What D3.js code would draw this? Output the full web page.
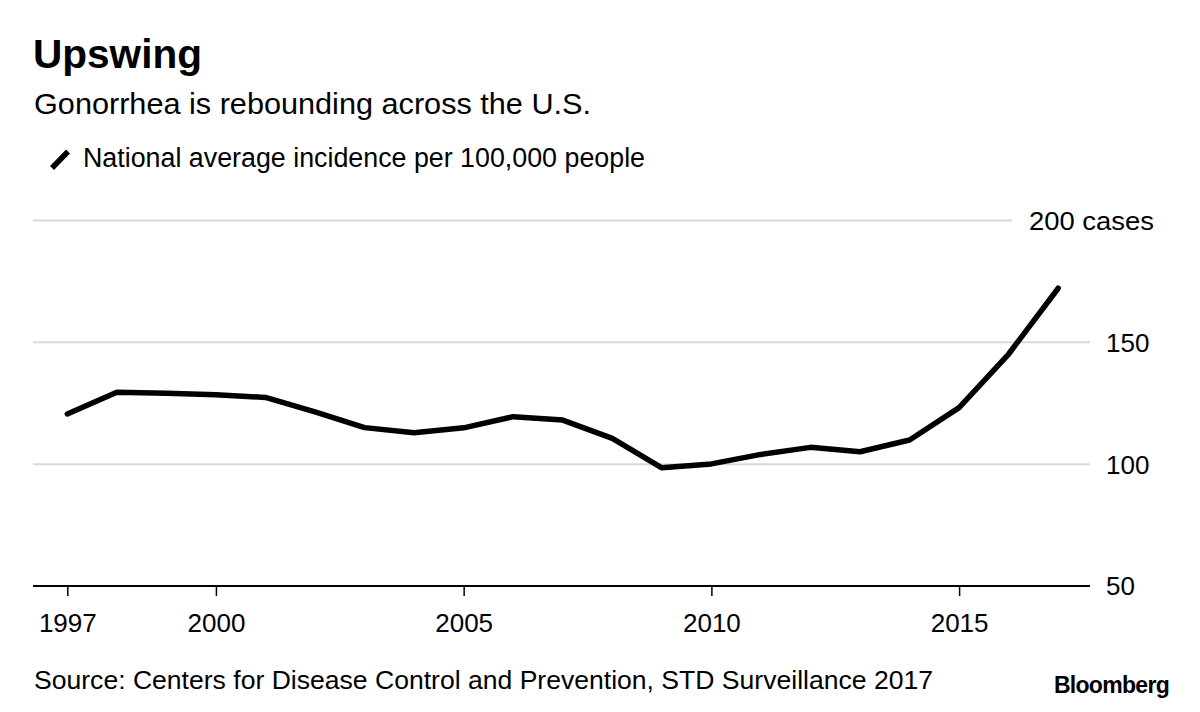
<!DOCTYPE html>
<html>
<head>
<meta charset="utf-8">
<script src="https://cdn.jsdelivr.net/npm/d3@7"></script>
<style>
  html, body { margin: 0; padding: 0; background: #fff; }
  svg { display: block; font-family: "Liberation Sans", Arial, Helvetica, sans-serif; }
</style>
</head>
<body>
<svg id="chart" width="1200" height="712"></svg>
<script>
// ---- data ----
const years = [1997, 1998, 1999, 2000, 2001, 2002, 2003, 2004, 2005, 2006, 2007,
               2008, 2009, 2010, 2011, 2012, 2013, 2014, 2015, 2016, 2017];
const incidence = [120.6, 129.5, 129.1, 128.5, 127.4, 121.5, 115.0, 112.9, 114.9, 119.5, 118.1,
                   110.6, 98.5, 100.1, 104.0, 106.9, 105.1, 109.9, 123.2, 145.2, 172.2];
const xTickValues = [1997, 2000, 2005, 2010, 2015];
const yTickValues = [50, 100, 150, 200];
const yTickLabels = ["50", "100", "150", "200 cases"];
const titleText = "Upswing";
const subtitleText = "Gonorrhea is rebounding across the U.S.";
const legendText = "National average incidence per 100,000 people";
const sourceText = "Source: Centers for Disease Control and Prevention, STD Surveillance 2017";
const brandText = "Bloomberg";

// ---- layout ----
const svg = d3.select("#chart");
const plotLeft = 33, plotRight = 1090;
const x = d3.scaleLinear().domain([1997, 2017]).range([67.3, 1058.2]);
const y = d3.scaleLinear().domain([50, 200]).range([586, 220.5]);

function fitText(sel, w) {
  sel.attr("textLength", w).attr("lengthAdjust", "spacingAndGlyphs");
}

// title / subtitle / legend
svg.append("text").attr("x", 33).attr("y", 68)
  .attr("font-size", 40).attr("font-weight", "bold").attr("fill", "#000")
  .text(titleText).call(fitText, 169);
svg.append("text").attr("x", 34).attr("y", 114)
  .attr("font-size", 30).attr("fill", "#000")
  .text(subtitleText).call(fitText, 557);
svg.append("line")
  .attr("x1", 52).attr("y1", 168).attr("x2", 68).attr("y2", 151.5)
  .attr("stroke", "#000").attr("stroke-width", 5.5);
svg.append("text").attr("x", 83).attr("y", 167)
  .attr("font-size", 27).attr("fill", "#000")
  .text(legendText).call(fitText, 562);

// gridlines
const grid = svg.append("g");
yTickValues.filter(v => v !== 50).forEach(v => {
  grid.append("line")
    .attr("x1", plotLeft).attr("x2", v === 200 ? 1012 : plotRight)
    .attr("y1", y(v)).attr("y2", y(v))
    .attr("stroke", "#d9d9d9").attr("stroke-width", 2);
});

// y labels
yTickValues.forEach((v, i) => {
  const t = svg.append("text")
    .attr("x", v === 200 ? 1029 : 1106)
    .attr("y", y(v)).attr("dy", "0.36em")
    .attr("font-size", 26).attr("fill", "#000")
    .text(yTickLabels[i]);
  if (v === 200) t.call(fitText, 125);
});

// baseline
svg.append("line")
  .attr("x1", plotLeft).attr("x2", plotRight)
  .attr("y1", y(50)).attr("y2", y(50))
  .attr("stroke", "#000").attr("stroke-width", 2);

// x axis
const xAxis = d3.axisBottom(x).tickValues(xTickValues).tickFormat(d3.format("d"))
  .tickSize(10).tickSizeOuter(0).tickPadding(18);
const gx = svg.append("g").attr("transform", `translate(0,${y(50)})`).call(xAxis);
gx.select(".domain").remove();
gx.selectAll(".tick line").attr("stroke", "#000").attr("stroke-width", 1.5);
gx.selectAll(".tick text").attr("font-size", 26).attr("fill", "#000")
  .attr("font-family", "\"Liberation Sans\", Arial, Helvetica, sans-serif");

// line
const data = years.map((yr, i) => ({ yr, v: incidence[i] }));
svg.append("path").datum(data)
  .attr("fill", "none").attr("stroke", "#000").attr("stroke-width", 5.5)
  .attr("stroke-linejoin", "round").attr("stroke-linecap", "round")
  .attr("d", d3.line().x(d => x(d.yr)).y(d => y(d.v)));

// footer
svg.append("text").attr("x", 34).attr("y", 689)
  .attr("font-size", 26).attr("fill", "#000")
  .text(sourceText).call(fitText, 899);
svg.append("text").attr("x", 1169).attr("y", 693)
  .attr("text-anchor", "end")
  .attr("font-size", 23).attr("font-weight", "bold").attr("fill", "#000")
  .attr("letter-spacing", -0.7)
  .text(brandText);
</script>
</body>
</html>
